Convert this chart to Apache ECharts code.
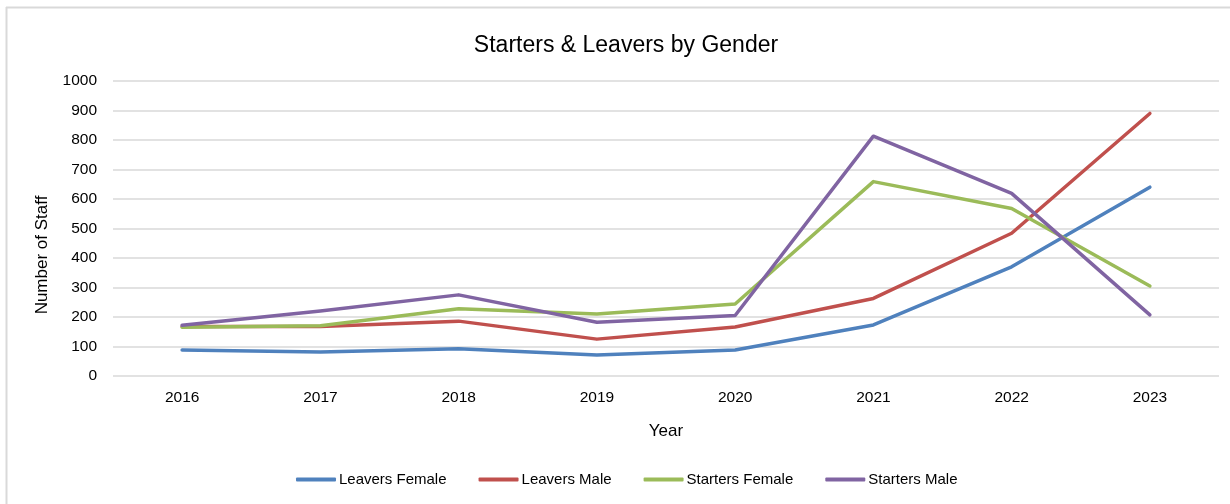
<!DOCTYPE html>
<html>
<head>
<meta charset="utf-8">
<script src="https://cdn.jsdelivr.net/npm/echarts@6/dist/echarts.min.js"></script>
<style>html,body{margin:0;padding:0;background:#fff;}#c{width:1230px;height:504px;}</style>
</head>
<body>
<div id="c"></div>
<script>
var years = ['2016','2017','2018','2019','2020','2021','2022','2023'];
var leaversFemale = [88, 81, 92, 71, 88, 173, 370, 640];
var leaversMale = [168, 168, 186, 125, 166, 263, 484, 890];
var startersFemale = [165, 170, 228, 210, 244, 659, 568, 305];
var startersMale = [172, 220, 275, 182, 205, 813, 619, 207];
var seriesNames = ['Leavers Female', 'Leavers Male', 'Starters Female', 'Starters Male'];
var colors = ['#4F81BD', '#C0504D', '#9BBB59', '#8064A2'];
var yTicks = [0, 100, 200, 300, 400, 500, 600, 700, 800, 900, 1000];

var FONT = 'Liberation Sans';
var chart = echarts.init(document.getElementById('c'));
var dataArr = [leaversFemale, leaversMale, startersFemale, startersMale];
chart.setOption({
  animation: false,
  color: colors,
  textStyle: { fontFamily: FONT },
  title: {
    text: 'Starters & Leavers by Gender',
    left: 621, top: 29, textAlign: 'center',
    textStyle: { fontFamily: FONT, fontSize: 23, fontWeight: 'normal', color: '#000' }
  },
  graphic: [
    { type: 'line', shape: { x1: 6.5, y1: 7, x2: 6.5, y2: 504 }, style: { stroke: '#d9d9d9', lineWidth: 2 } },
    { type: 'line', shape: { x1: 6, y1: 7.5, x2: 1230, y2: 7.5 }, style: { stroke: '#d9d9d9', lineWidth: 2 } },
    { type: 'text', x: 42, y: 255, rotation: Math.PI / 2,
      style: { text: 'Number of Staff', font: '17px "Liberation Sans"', fill: '#000', textAlign: 'center', textVerticalAlign: 'middle' } }
  ],
  legend: {
    data: seriesNames,
    left: 291, top: 467,
    itemWidth: 40, itemHeight: 4, itemGap: 32,
    icon: 'roundRect',
    textStyle: { fontFamily: FONT, fontSize: 15, color: '#000', padding: [0, 0, 0, -2] }
  },
  grid: { left: 113, right: 11, top: 81, bottom: 128 },
  xAxis: {
    type: 'category', data: years, boundaryGap: true,
    name: 'Year', nameLocation: 'middle', nameGap: 47,
    nameTextStyle: { fontFamily: FONT, fontSize: 17, color: '#000' },
    axisLine: { show: false }, axisTick: { show: false },
    axisLabel: { fontFamily: FONT, fontSize: 15.5, color: '#000', margin: 14 }
  },
  yAxis: {
    type: 'value', min: 0, max: 1000, interval: 100,
    axisLine: { show: false }, axisTick: { show: false },
    axisLabel: { fontFamily: FONT, fontSize: 15.5, color: '#000', margin: 16,
      formatter: function (v) { return yTicks.indexOf(v) >= 0 ? String(v) : ''; } },
    splitLine: { lineStyle: { color: '#d9d9d9', width: 1.5 } }
  },
  series: dataArr.map(function (d, i) {
    return {
      name: seriesNames[i], type: 'line', data: d,
      symbol: 'none', lineStyle: { width: 3.5, color: colors[i], cap: 'round', join: 'round' },
      itemStyle: { color: colors[i] }
    };
  })
});
</script>
</body>
</html>
